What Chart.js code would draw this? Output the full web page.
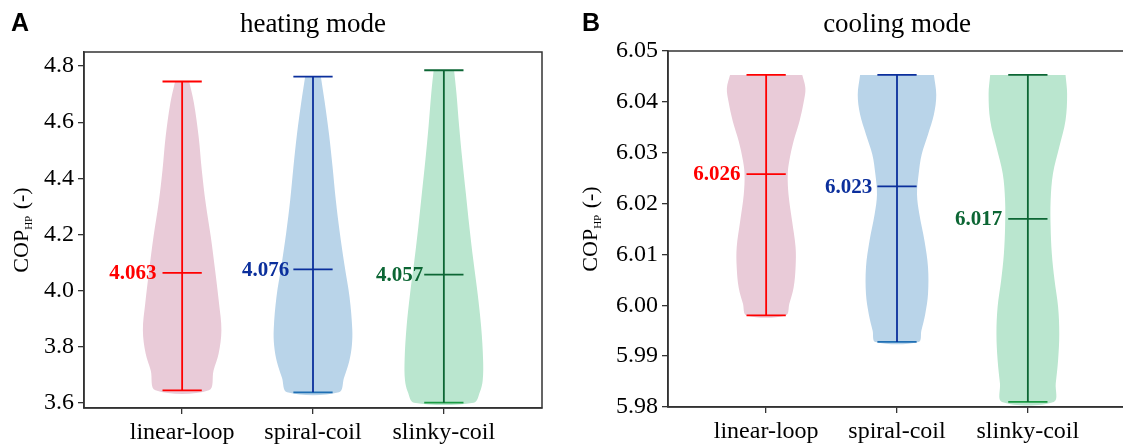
<!DOCTYPE html>
<html>
<head>
<meta charset="utf-8">
<script src="https://cdn.jsdelivr.net/npm/chart.js@4.4.1/dist/chart.umd.min.js"></script>
<style>
  html, body { margin: 0; padding: 0; background: #fff; overflow: hidden; width: 1123px; height: 448px; }
  #left { position: absolute; left: 0; top: 0; }
  #right { position: absolute; left: 560px; top: 0; }
</style>
</head>
<body>
<div id="left"><canvas id="heat" width="560" height="448"></canvas></div>
<div id="right"><canvas id="cool" width="600" height="448"></canvas></div>
<script>
const categories = ['linear-loop', 'spiral-coil', 'slinky-coil'];

// heating mode
const heatMin = [3.645, 3.638, 3.601];
const heatMax = [4.745, 4.762, 4.785];
const heatMean = [4.063, 4.076, 4.057];
const heatTicks = [3.6, 3.8, 4.0, 4.2, 4.4, 4.6, 4.8];

// violin outlines: levels and relative half-width (1 = widest)
const heatLinearY = [4.745, 4.668, 4.549, 4.430, 4.311, 4.192, 4.073, 3.954, 3.859, 3.776, 3.716, 3.645];
const heatLinearW = [0.18, 0.30, 0.42, 0.50, 0.60, 0.73, 0.84, 0.94, 1.00, 0.93, 0.80, 0.68];
const heatSpiralY = [4.762, 4.670, 4.555, 4.439, 4.324, 4.209, 4.093, 3.978, 3.863, 3.805, 3.747, 3.690, 3.638];
const heatSpiralW = [0.20, 0.30, 0.41, 0.50, 0.58, 0.68, 0.80, 0.93, 1.00, 0.99, 0.92, 0.79, 0.66];
const heatSlinkyY = [4.785, 4.704, 4.585, 4.466, 4.347, 4.228, 4.109, 3.990, 3.871, 3.752, 3.681, 3.640, 3.601];
const heatSlinkyW = [0.26, 0.32, 0.39, 0.47, 0.56, 0.65, 0.75, 0.86, 0.95, 1.00, 0.99, 0.92, 0.76];

// cooling mode
const coolMin = [5.998, 5.9928, 5.981];
const coolMax = [6.0453, 6.0453, 6.0453];
const coolMean = [6.0258, 6.0234, 6.0170];
const coolTicks = [5.98, 5.99, 6.00, 6.01, 6.02, 6.03, 6.04, 6.05];

const coolLinearY = [6.0453, 6.0427, 6.0401, 6.0362, 6.0323, 6.0284, 6.0257, 6.0218, 6.0166, 6.0114, 6.0075, 6.0035, 6.0003, 5.998];
const coolLinearW = [0.92, 1.00, 0.96, 0.85, 0.70, 0.59, 0.55, 0.57, 0.66, 0.75, 0.75, 0.70, 0.59, 0.50];
const coolSpiralY = [6.0453, 6.0414, 6.0375, 6.0336, 6.0297, 6.0257, 6.0218, 6.0179, 6.0127, 6.0075, 6.0022, 5.9983, 5.9950, 5.9928];
const coolSpiralW = [0.94, 1.00, 0.94, 0.79, 0.63, 0.55, 0.51, 0.57, 0.70, 0.79, 0.79, 0.72, 0.62, 0.55];
const coolSlinkyY = [6.0453, 6.0416, 6.0364, 6.0311, 6.0259, 6.0206, 6.0154, 6.0102, 6.0049, 5.9997, 5.9944, 5.9892, 5.9846, 5.981];
const coolSlinkyW = [0.96, 1.00, 0.96, 0.80, 0.64, 0.58, 0.58, 0.61, 0.68, 0.77, 0.80, 0.77, 0.71, 0.66];

const fillColors = ['#e9cbd8', '#b9d4e9', '#bae6cf'];
const lineColors = ['#ff0000', '#0b2f9c', '#0c6634'];
const minCapColors = ['#ff0000', '#1f6fb4', '#1c9c44'];

const HALF = 0.3;   // widest half-width, in category units
const CAP = 0.15;   // cap half-length
const serif = '"Liberation Serif", "Times New Roman", serif';

function seg(x0, y0, x1, y1, color, width) {
  return {
    data: [{ x: x0, y: y0 }, { x: x1, y: y1 }],
    borderColor: color, borderWidth: width,
    pointRadius: 0, fill: false, tension: 0, order: 1
  };
}

function buildDatasets(profY, profW, mins, maxs, means) {
  const ds = [];
  categories.forEach((_, i) => {
    const ys = profY[i], ws = profW[i];
    const right = ys.map((y, k) => ({ x: i + ws[k] * HALF, y }));
    const left = ys.map((y, k) => ({ x: i - ws[k] * HALF, y })).reverse();
    ds.push({
      data: [...right, ...left],
      backgroundColor: fillColors[i], borderColor: 'rgba(0,0,0,0)', borderWidth: 0,
      fill: 'shape', tension: 0.35, pointRadius: 0, order: 2
    });
    ds.push(seg(i, mins[i], i, maxs[i], lineColors[i], 1.8));
    ds.push(seg(i - CAP, maxs[i], i + CAP, maxs[i], lineColors[i], 1.8));
    ds.push(seg(i - CAP, means[i], i + CAP, means[i], lineColors[i], 1.8));
    ds.push(seg(i - CAP, mins[i], i + CAP, mins[i], minCapColors[i], 1.8));
  });
  return ds;
}

const decor = {
  id: 'decor',
  afterDraw(chart, args, o) {
    const { ctx, chartArea: a, scales: { x, y } } = chart;
    ctx.save();
    ctx.strokeStyle = '#333';
    ctx.lineWidth = 1.5;
    ctx.strokeRect(a.left, a.top, a.right - a.left, a.bottom - a.top);

    ctx.fillStyle = '#000';
    ctx.font = 'bold 25px "Liberation Sans", Arial, sans-serif';
    ctx.textAlign = 'left';
    ctx.textBaseline = 'alphabetic';
    ctx.fillText(o.letter, o.letterX, 31);

    ctx.font = '27px ' + serif;
    ctx.textAlign = 'center';
    ctx.fillText(o.title, (a.left + a.right) / 2, 32);

    // y axis title with subscript
    const main = '22px ' + serif, sub = '11px ' + serif;
    ctx.font = main; const w1 = ctx.measureText('COP').width;
    const w3 = ctx.measureText(' (-)').width;
    ctx.font = sub; const w2 = ctx.measureText('HP').width + 1;
    const total = w1 + w2 + w3;
    ctx.translate(o.ytitleX, (a.top + a.bottom) / 2);
    ctx.rotate(-Math.PI / 2);
    ctx.textAlign = 'left';
    ctx.textBaseline = 'alphabetic';
    ctx.font = main; ctx.fillText('COP', -total / 2, 8);
    ctx.font = sub; ctx.fillText('HP', -total / 2 + w1, 12);
    ctx.font = main; ctx.fillText(' (-)', -total / 2 + w1 + w2, 8);
    ctx.setTransform(1, 0, 0, 1, 0, 0);

    // mean value labels
    ctx.font = 'bold 21px ' + serif;
    ctx.textAlign = 'right';
    ctx.textBaseline = 'middle';
    o.means.forEach((m, i) => {
      ctx.fillStyle = lineColors[i];
      ctx.fillText(m.toFixed(3), x.getPixelForValue(i - CAP) - o.gaps[i], y.getPixelForValue(m) + 1);
    });
    ctx.restore();
  }
};

function makePanel(id, p) {
  return new Chart(document.getElementById(id), {
    type: 'line',
    data: { datasets: buildDatasets(p.profY, p.profW, p.mins, p.maxs, p.means) },
    plugins: [decor],
    options: {
      responsive: false,
      animation: false,
      events: [],
      layout: { padding: { left: 0, top: p.top, right: p.right, bottom: 0 } },
      plugins: {
        legend: { display: false },
        tooltip: { enabled: false },
        decor: { letter: p.letter, letterX: p.letterX, title: p.title, ytitleX: p.ytitleX, means: p.means, gaps: p.gaps }
      },
      scales: {
        x: {
          type: 'linear', min: -0.75, max: 2.75,
          afterBuildTicks: s => { s.ticks = categories.map((_, i) => ({ value: i })); },
          afterFit: s => { s.height = p.xHeight; },
          ticks: {
            callback: v => categories[v], autoSkip: false, maxRotation: 0,
            color: '#000', padding: 4, font: { family: serif, size: 24 }
          },
          grid: { drawOnChartArea: false, tickLength: 6, color: '#333', lineWidth: 1.3 },
          border: { color: '#333', width: 1.5 }
        },
        y: {
          type: 'linear', min: p.yMin, max: p.yMax,
          afterBuildTicks: s => { s.ticks = p.ticks.map(v => ({ value: v })); },
          afterFit: s => { s.width = p.yWidth; },
          ticks: {
            callback: v => v.toFixed(p.dec), autoSkip: false,
            color: '#000', padding: 4, font: { family: serif, size: 24 }
          },
          grid: { drawOnChartArea: false, tickLength: 6, color: '#333', lineWidth: 1.3 },
          border: { color: '#333', width: 1.5 }
        }
      }
    }
  });
}

makePanel('heat', {
  profY: [heatLinearY, heatSpiralY, heatSlinkyY],
  profW: [heatLinearW, heatSpiralW, heatSlinkyW],
  mins: heatMin, maxs: heatMax, means: heatMean, ticks: heatTicks,
  yMin: 3.582, yMax: 4.85, dec: 1,
  top: 52, right: 18, xHeight: 40, yWidth: 84,
  letter: 'A', letterX: 11, title: 'heating mode', ytitleX: 20,
  gaps: [6, 4, 1]
});

makePanel('cool', {
  profY: [coolLinearY, coolSpiralY, coolSlinkyY],
  profW: [coolLinearW, coolSpiralW, coolSlinkyW],
  mins: coolMin, maxs: coolMax, means: coolMean, ticks: coolTicks,
  yMin: 5.98, yMax: 6.05, dec: 2,
  top: 51, right: 34, xHeight: 41, yWidth: 108,
  letter: 'B', letterX: 22, title: 'cooling mode', ytitleX: 29,
  gaps: [6, 5, 6]
});
</script>
</body>
</html>
